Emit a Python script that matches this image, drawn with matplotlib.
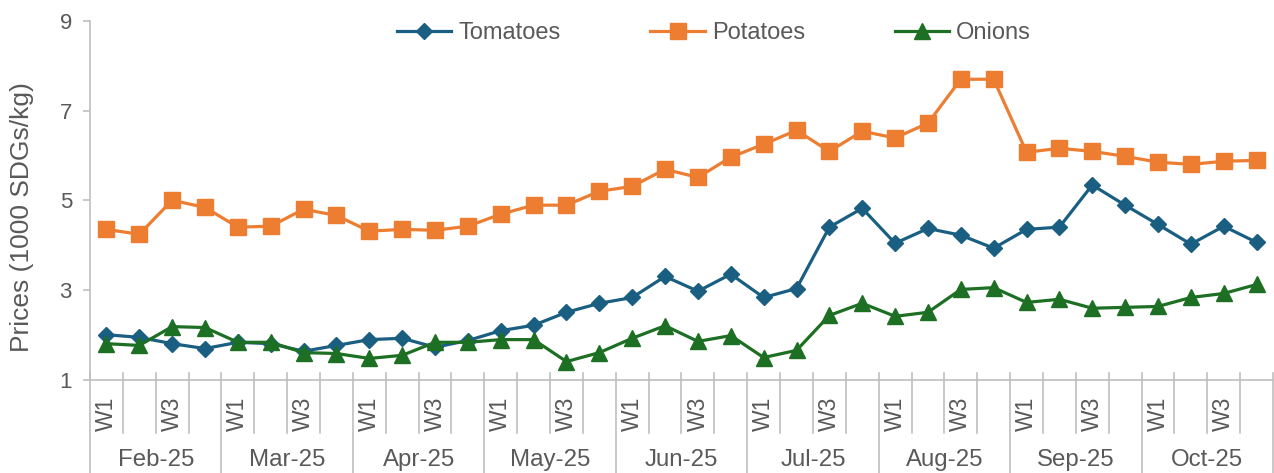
import numpy as np
import matplotlib
matplotlib.use('Agg')
import matplotlib.pyplot as plt
import matplotlib.transforms as mtransforms

plt.rcParams['font.family'] = ['Liberation Sans', 'DejaVu Sans']

months = ['Feb-25', 'Mar-25', 'Apr-25', 'May-25', 'Jun-25',
          'Jul-25', 'Aug-25', 'Sep-25', 'Oct-25']
week_labels = ['W1', '', 'W3', '']

tomatoes = [2.00, 1.94, 1.80, 1.69, 1.83, 1.80, 1.63, 1.76, 1.89, 1.92, 1.72, 1.87,
            2.09, 2.21, 2.50, 2.70, 2.83, 3.30, 2.97, 3.35, 2.83, 3.03, 4.40, 4.82,
            4.04, 4.37, 4.22, 3.93, 4.35, 4.40, 5.34, 4.89, 4.46, 4.02, 4.42, 4.06]
potatoes = [4.35, 4.24, 5.00, 4.84, 4.40, 4.42, 4.80, 4.66, 4.31, 4.35, 4.33, 4.42,
            4.69, 4.89, 4.89, 5.20, 5.31, 5.69, 5.51, 5.96, 6.25, 6.56, 6.09, 6.54,
            6.39, 6.72, 7.70, 7.70, 6.07, 6.16, 6.09, 5.98, 5.85, 5.80, 5.87, 5.89]
onions = [1.80, 1.76, 2.18, 2.16, 1.83, 1.83, 1.60, 1.58, 1.47, 1.54, 1.83, 1.83,
          1.89, 1.89, 1.40, 1.60, 1.92, 2.20, 1.85, 1.98, 1.49, 1.65, 2.43, 2.70,
          2.41, 2.50, 3.01, 3.05, 2.72, 2.79, 2.59, 2.61, 2.63, 2.83, 2.92, 3.12]

text_col = '#595959'
axis_col = '#BFBFBF'

fig = plt.figure(figsize=(12.74, 4.73), dpi=100)
ax = fig.add_axes([90 / 1274, 93.5 / 473, 1183 / 1274, 358.5 / 473])

x = np.arange(len(tomatoes))
ax.plot(x, tomatoes, color='#1A5F82', lw=2.3, marker='D', ms=8.5, label='Tomatoes')
ax.plot(x, potatoes, color='#ED7D31', lw=2.3, marker='s', ms=11.5, label='Potatoes')
ax.plot(x, onions, color='#1D6F23', lw=2.3, marker='^', ms=12, label='Onions')

ax.set_ylim(1, 9)
ax.set_yticks([1, 3, 5, 7, 9])
ax.set_xlim(-0.5, len(x) - 0.5)
ax.set_xticks([])
ax.tick_params(axis='y', colors=axis_col, labelcolor=text_col, labelsize=16,
               length=5, width=1.2, pad=8)
for side in ['top', 'right']:
    ax.spines[side].set_visible(False)
for side in ['left', 'bottom']:
    ax.spines[side].set_color(axis_col)
    ax.spines[side].set_linewidth(1.2)

# two-level category axis: week row and month row
trans = mtransforms.blended_transform_factory(ax.transData, ax.transAxes)
h = 358.5
bounds = np.arange(len(x) + 1) - 0.5
for i, b in enumerate(bounds):
    low = -94 / h if i % 4 == 0 else -53 / h
    ax.plot([b, b], [7 / h, low], transform=trans, color=axis_col, lw=1.2,
            clip_on=False)
for i in x:
    lab = week_labels[i % 4]
    if lab:
        ax.text(i, -34 / h, lab, transform=trans, rotation=90, ha='center',
                va='center', fontsize=16.5, color=text_col)
for m, name in enumerate(months):
    ax.text(m * 4 + 1.5, -80 / h, name, transform=trans, ha='center',
            va='center', fontsize=17.3, color=text_col)

fig.text(22 / 1274, 1 - 217 / 473, 'Prices (1000 SDGs/kg)', rotation=90,
         ha='center', va='center', fontsize=19, color=text_col)

fig.legend(loc='center', bbox_to_anchor=(714 / 1274, 1 - 33 / 473), ncol=3,
           frameon=False, fontsize=17, handlelength=2.3, handletextpad=0.3,
           columnspacing=3.8, labelcolor=text_col)

fig.savefig('out.png', dpi=100)
